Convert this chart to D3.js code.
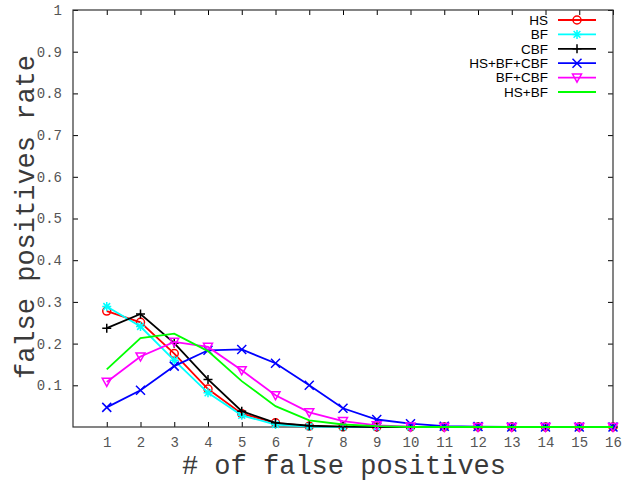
<!DOCTYPE html>
<html>
<head>
<meta charset="utf-8">
<script src="https://d3js.org/d3.v7.min.js"></script>
<style>
	body { margin: 0; background: white; }
	svg { display: block; }
</style>
</head>
<body>
<svg id="chart"></svg>
<script>
// values
const xValues = [1, 2, 3, 4, 5, 6, 7, 8, 9, 10, 11, 12, 13, 14, 15, 16];
const yTicks = [0.1, 0.2, 0.3, 0.4, 0.5, 0.6, 0.7, 0.8, 0.9, 1];

const hs       = [0.278, 0.251, 0.176, 0.091, 0.032, 0.010, 0.002, 0, 0, 0, 0, 0, 0, 0, 0, 0];
const bf       = [0.289, 0.241, 0.160, 0.082, 0.028, 0.006, 0.001, 0, 0, 0, 0, 0, 0, 0, 0, 0];
const cbf      = [0.237, 0.271, 0.201, 0.114, 0.038, 0.010, 0.003, 0.001, 0, 0, 0, 0, 0, 0, 0, 0];
const hsBfCbf  = [0.047, 0.088, 0.146, 0.184, 0.186, 0.153, 0.100, 0.045, 0.018, 0.008, 0.002, 0.001, 0, 0, 0, 0];
const bfCbf    = [0.108, 0.169, 0.204, 0.192, 0.136, 0.076, 0.035, 0.014, 0.004, 0.001, 0, 0, 0, 0, 0, 0];
const hsBf     = [0.138, 0.213, 0.224, 0.182, 0.110, 0.050, 0.016, 0.006, 0.002, 0, 0, 0, 0, 0, 0, 0];

const seriesNames = ["HS", "BF", "CBF", "HS+BF+CBF", "BF+CBF", "HS+BF"];
const seriesValues = [hs, bf, cbf, hsBfCbf, bfCbf, hsBf];
const seriesColors = ["#ff0000", "#00ffff", "#000000", "#0000ff", "#ff00ff", "#00ff00"];
const seriesMarkers = ["circle", "star", "plus", "cross", "triangle", "none"];

const width = 631, height = 481;
const margin = { top: 10, right: 18, bottom: 54, left: 73 };

const svg = d3.select("#chart").attr("width", width).attr("height", height);

const x = d3.scaleLinear().domain([0, 16]).range([margin.left, width - margin.right]);
const y = d3.scaleLinear().domain([0, 1]).range([height - margin.bottom, margin.top]);

const tickCol = "#555";
const monoFont = "'Liberation Mono', 'DejaVu Sans Mono', monospace";

// axes: ticks drawn inward, mirrored on top and right
svg.append("g")
	.attr("transform", `translate(0,${y(0)})`)
	.call(d3.axisBottom(x).tickValues(xValues).tickSizeInner(-5).tickSizeOuter(0).tickPadding(10))
	.call(g => g.select(".domain").remove());
svg.append("g")
	.attr("transform", `translate(0,${y(1)})`)
	.call(d3.axisTop(x).tickValues(xValues).tickSizeInner(-5).tickSizeOuter(0).tickFormat(""))
	.call(g => g.select(".domain").remove());
svg.append("g")
	.attr("transform", `translate(${x(0)},0)`)
	.call(d3.axisLeft(y).tickValues(yTicks).tickSizeInner(-5).tickSizeOuter(0).tickPadding(11)
		.tickFormat(d => d === 1 ? "1" : d3.format(".1f")(d)))
	.call(g => g.select(".domain").remove());
svg.append("g")
	.attr("transform", `translate(${x(16)},0)`)
	.call(d3.axisRight(y).tickValues(yTicks).tickSizeInner(-5).tickSizeOuter(0).tickFormat(""))
	.call(g => g.select(".domain").remove());

svg.selectAll(".tick line").attr("stroke", "#000");
svg.selectAll(".tick text")
	.attr("font-family", monoFont)
	.attr("font-size", 14)
	.attr("fill", tickCol);

// frame
svg.append("rect")
	.attr("x", x(0)).attr("y", y(1))
	.attr("width", x(16) - x(0)).attr("height", y(0) - y(1))
	.attr("fill", "none").attr("stroke", "#333").attr("stroke-width", 1.2);

// axis titles
svg.append("text")
	.attr("x", (x(0) + x(16)) / 2 + 1).attr("y", 474)
	.attr("text-anchor", "middle")
	.attr("font-family", monoFont).attr("font-size", 27)
	.attr("fill", "#3a3a3a")
	.text("# of false positives");
svg.append("text")
	.attr("transform", `translate(34,${217}) rotate(-90)`)
	.attr("text-anchor", "middle")
	.attr("font-family", monoFont).attr("font-size", 27)
	.attr("fill", "#3a3a3a")
	.text("false positives rate");

function drawMarker(g, type, color) {
	const s = 4.5;
	if (type === "circle") {
		g.append("circle").attr("r", 4).attr("fill", "none").attr("stroke", color).attr("stroke-width", 1.5);
	} else if (type === "plus") {
		g.append("path").attr("d", `M${-s},0H${s}M0,${-s}V${s}`).attr("stroke", color).attr("stroke-width", 1.5);
	} else if (type === "cross") {
		g.append("path").attr("d", `M${-s},${-s}L${s},${s}M${-s},${s}L${s},${-s}`).attr("stroke", color).attr("stroke-width", 1.5);
	} else if (type === "star") {
		g.append("path").attr("d", `M${-s},0H${s}M0,${-s}V${s}M${-s*0.75},${-s*0.75}L${s*0.75},${s*0.75}M${-s*0.75},${s*0.75}L${s*0.75},${-s*0.75}`)
			.attr("stroke", color).attr("stroke-width", 1.5);
	} else if (type === "triangle") {
		g.append("path").attr("d", `M${-s},${-s*0.8}L${s},${-s*0.8}L0,${s}Z`).attr("fill", "none").attr("stroke", color).attr("stroke-width", 1.5);
	}
}

const line = d3.line().x((d, i) => x(xValues[i])).y(d => y(d));

const plot = svg.append("g");
seriesValues.forEach((vals, k) => {
	plot.append("path")
		.datum(vals)
		.attr("d", line)
		.attr("fill", "none")
		.attr("stroke", seriesColors[k])
		.attr("stroke-width", 1.8);
	if (seriesMarkers[k] !== "none") {
		vals.forEach((v, i) => {
			const g = plot.append("g").attr("transform", `translate(${x(xValues[i])},${y(v)})`);
			drawMarker(g, seriesMarkers[k], seriesColors[k]);
		});
	}
});

// legend
const legend = svg.append("g");
seriesNames.forEach((name, k) => {
	const ly = 20 + k * 14.4;
	legend.append("text")
		.attr("x", 548).attr("y", ly).attr("dy", "0.35em")
		.attr("text-anchor", "end")
		.attr("font-family", "'Liberation Sans', Arial, sans-serif")
		.attr("font-size", 13.5)
		.attr("fill", "#000")
		.text(name);
	legend.append("line")
		.attr("x1", 558).attr("x2", 596).attr("y1", ly).attr("y2", ly)
		.attr("stroke", seriesColors[k]).attr("stroke-width", 1.8);
	if (seriesMarkers[k] !== "none") {
		const g = legend.append("g").attr("transform", `translate(577,${ly})`);
		drawMarker(g, seriesMarkers[k], seriesColors[k]);
	}
});
</script>
</body>
</html>
